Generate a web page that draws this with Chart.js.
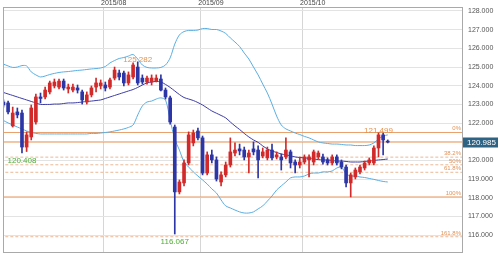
<!DOCTYPE html>
<html><head><meta charset="utf-8">
<script src="https://cdn.jsdelivr.net/npm/chart.js@4/dist/chart.umd.min.js"></script>
<style>html,body{margin:0;padding:0;background:#fff}#wrap{width:500px;height:257px}</style>
</head><body><div id="wrap"><canvas id="c" width="500" height="257"></canvas></div>
<script>
// ---- data (USD/JPY daily, Jul–Oct 2015) ----
const opens = [123.13,123.08,121.85,122.60,122.54,120.72,121.26,122.06,123.40,123.40,
123.67,123.99,123.93,124.25,123.83,123.77,123.88,123.67,123.13,123.51,
123.93,123.99,124.04,123.93,124.41,124.68,124.68,124.15,124.47,125.00,
124.41,124.20,124.20,124.25,124.36,123.77,123.35,121.79,118.32,118.80,
119.87,120.94,121.58,121.21,119.33,120.30,120.03,118.85,119.23,119.76,
120.40,120.62,120.56,120.19,120.62,120.56,120.24,120.14,120.56,120.19,
120.19,120.19,120.46,119.92,119.76,119.92,120.03,119.92,120.19,120.19,
120.03,119.87,120.19,119.92,119.65,118.80,119.12,119.39,119.60,119.87,
119.87,120.67,121.37,121.02];
const highs = [123.24,123.18,122.86,122.81,122.70,121.53,122.97,123.56,123.61,123.93,
124.25,124.36,124.36,124.36,124.09,124.09,124.04,123.77,123.67,123.99,
124.41,124.31,124.20,124.41,125.00,124.84,124.79,124.74,125.22,125.282,
124.58,124.52,124.58,124.58,124.58,123.88,123.45,121.90,118.96,120.03,
121.53,121.63,121.74,121.31,120.46,120.56,120.19,119.39,119.92,121.21,
120.94,120.88,120.72,120.56,120.99,120.78,120.67,120.72,120.88,120.46,
120.35,121.21,120.56,120.03,120.19,120.30,120.30,120.56,120.51,120.35,
120.14,120.30,120.30,120.03,119.76,119.33,119.60,119.76,119.97,120.14,
120.78,121.499,121.47,121.10];
const lows = [122.86,122.49,121.79,122.28,120.408,120.48,121.10,121.95,123.08,123.29,
123.56,123.88,123.83,123.77,123.61,123.67,123.61,123.02,123.02,123.40,
123.67,123.83,123.72,123.83,124.31,124.31,123.99,124.04,124.36,124.04,
124.09,124.09,124.04,124.20,123.72,123.29,121.95,116.067,118.21,118.64,
119.76,120.78,121.10,119.23,119.23,119.87,118.90,118.64,119.12,119.65,
120.24,120.30,120.03,119.33,120.30,119.07,120.14,120.03,120.03,120.08,
119.49,120.08,119.60,119.33,119.60,119.81,119.12,119.76,120.08,119.81,
119.76,119.76,119.76,119.55,118.58,118.05,119.01,119.28,119.49,119.76,
119.76,120.19,120.30,120.94];
const closes = [122.97,122.60,122.54,122.44,120.72,121.37,122.81,123.40,123.32,123.77,
124.15,124.20,124.25,123.88,123.93,123.93,123.77,123.24,123.51,123.88,
124.15,124.15,123.88,124.31,124.84,124.47,124.15,124.58,125.11,124.15,
124.20,124.41,124.41,124.41,123.77,123.40,122.06,118.32,118.85,119.87,
121.37,121.47,121.21,119.33,120.30,120.03,119.01,119.23,119.76,120.46,
120.56,120.51,120.19,120.40,120.46,120.03,120.46,120.56,120.14,120.30,
120.03,120.56,119.87,119.76,119.92,120.19,120.19,120.46,120.40,119.92,
119.87,120.19,119.87,119.65,118.80,119.23,119.49,119.65,119.87,120.03,
120.67,121.37,121.10,120.985];

const bbUpper = [125.16,125.06,124.98,125.00,125.08,125.06,124.74,124.58,124.47,124.52,
124.60,124.66,124.71,124.74,124.76,124.79,124.82,124.84,124.87,124.90,
124.92,124.95,125.03,125.22,125.35,125.46,125.51,125.59,125.67,125.43,
125.11,124.98,124.95,124.95,124.98,125.11,125.49,126.23,126.72,126.90,
126.96,126.96,126.98,127.06,127.06,127.01,127.01,126.93,126.80,126.56,
126.34,126.10,125.75,125.43,125.00,124.58,124.09,123.61,123.02,122.38,
121.90,121.69,121.58,121.47,121.39,121.29,121.21,121.10,120.99,120.94,
120.91,120.88,120.88,120.86,120.83,120.83,120.80,120.80,120.80,120.83,
120.94,121.15,121.31,121.37];
const bbMiddle = [123.64,123.56,123.48,123.40,123.32,123.24,123.16,123.08,123.00,123.00,
123.00,123.02,123.02,123.05,123.08,123.08,123.10,123.13,123.16,123.18,
123.21,123.24,123.32,123.40,123.48,123.56,123.64,123.72,123.80,123.91,
124.04,124.15,124.20,124.23,124.20,124.07,123.91,123.72,123.53,123.37,
123.29,123.21,123.10,122.97,122.81,122.65,122.53,122.41,122.28,122.06,
121.85,121.66,121.45,121.26,121.10,120.97,120.78,120.62,120.51,120.43,
120.35,120.30,120.25,120.19,120.16,120.14,120.11,120.08,120.05,120.03,
120.03,120.00,119.97,119.97,119.95,119.92,119.92,119.92,119.95,119.97,
120.00,120.03,120.05,120.08];
const bbLower = [122.14,122.01,121.90,121.79,121.69,121.58,121.50,121.45,121.42,121.42,
121.42,121.42,121.42,121.42,121.42,121.42,121.42,121.42,121.42,121.45,
121.45,121.47,121.50,121.53,121.58,121.63,121.69,121.77,121.90,122.44,
122.92,123.13,123.18,123.29,123.35,123.24,122.17,121.15,120.56,119.92,
119.65,119.39,119.17,118.96,118.74,118.48,118.26,117.89,117.57,117.46,
117.35,117.25,117.19,117.19,117.25,117.41,117.57,117.83,118.10,118.42,
118.64,118.85,119.07,119.12,119.12,119.17,119.28,119.33,119.33,119.39,
119.39,119.44,119.60,119.65,119.28,119.17,119.17,119.12,119.09,119.04,
118.99,118.93,118.88,118.85];

const monthTicks = [21.5, 42.5, 64.5];
const monthLabels = ['2015/08', '2015/09', '2015/10'];
const yTicks = [116,117,118,119,120,121,122,123,124,125,126,127,128];
const fibLevels = [121.499, 120.18, 119.77, 119.37, 118.05, 115.92];
const fibLabels = ['0%', '38.2%', '50%', '61.8%', '100%', '161.8%'];
const fibSolid = [true, false, false, false, true, false];
const currentPrice = 120.985;
const highMarks = [{i: 29, v: 125.282}, {i: 81, v: 121.499}];
const lowMarks = [{i: 4, v: 120.408}, {i: 37, v: 116.067}];

// ---- styling ----
const UP = '#d22a2a', DOWN = '#2c36a6';
const ORANGE = '#e9a06c', ORANGE_D = '#ebb894';
const FONT = 'Arial, "Liberation Sans", sans-serif';
const colors = opens.map((o, i) => closes[i] >= o ? UP : DOWN);

const datasets = [];
fibLevels.forEach((lv, k) => {
  datasets.push({type: 'line', data: [{x: -5, y: lv}, {x: 105, y: lv}],
    borderColor: fibSolid[k] ? ORANGE : ORANGE_D, borderWidth: 1,
    borderDash: fibSolid[k] ? [] : [3, 2], pointRadius: 0, order: 20});
});
datasets.push({type: 'line', data: [{x: -5, y: currentPrice}, {x: 105, y: currentPrice}],
  borderColor: ORANGE, borderWidth: 1, pointRadius: 0, order: 19});
datasets.push({type: 'line', data: bbUpper.map((v, i) => ({x: i, y: v})),
  borderColor: '#5aaee2', borderWidth: 1, pointRadius: 0, tension: 0.3, order: 10});
datasets.push({type: 'line', data: bbLower.map((v, i) => ({x: i, y: v})),
  borderColor: '#5aaee2', borderWidth: 1, pointRadius: 0, tension: 0.3, order: 10});
datasets.push({type: 'line', data: bbMiddle.map((v, i) => ({x: i, y: v})),
  borderColor: '#3b3ba6', borderWidth: 1, pointRadius: 0, tension: 0.3, order: 9});
datasets.push({type: 'bar', data: lows.map((l, i) => ({x: i, y: [l, highs[i]]})),
  backgroundColor: colors, barThickness: 1, grouped: false, order: 2});
datasets.push({type: 'bar', data: opens.map((o, i) => ({x: i, y: [o, closes[i]]})),
  backgroundColor: colors, barThickness: 3, minBarLength: 1, grouped: false, order: 1});

const annot = {
  id: 'annot',
  afterDatasetsDraw(chart) {
    const {ctx, chartArea: a, scales: {x, y}} = chart;
    ctx.save();
    ctx.strokeStyle = '#a9a9a9'; ctx.lineWidth = 1;
    ctx.strokeRect(Math.round(a.left) + 0.5, Math.round(a.top) + 0.5,
      Math.round(a.right - a.left) - 1, Math.round(a.bottom - a.top) - 1);
    // fib labels
    ctx.font = '6px ' + FONT; ctx.fillStyle = '#e39358';
    ctx.textAlign = 'right'; ctx.textBaseline = 'alphabetic';
    fibLevels.forEach((lv, k) => ctx.fillText(fibLabels[k], a.right - 2, y.getPixelForValue(lv) - 2));
    // high/low marks
    ctx.font = '8px ' + FONT; ctx.textAlign = 'center';
    ctx.fillStyle = '#e3934f';
    highMarks.forEach(m => ctx.fillText(m.v.toFixed(3), x.getPixelForValue(m.i), y.getPixelForValue(m.v) + 0.5));
    ctx.fillStyle = '#4caf30';
    lowMarks.forEach(m => ctx.fillText(m.v.toFixed(3), x.getPixelForValue(m.i), y.getPixelForValue(m.v) + 10));
    // month labels (left-aligned at boundary)
    ctx.font = '7px ' + FONT; ctx.fillStyle = '#444'; ctx.textAlign = 'left'; ctx.textBaseline = 'bottom';
    monthTicks.forEach((t, k) => ctx.fillText(monthLabels[k], x.getPixelForValue(t) - 2, a.top));
    ctx.restore();
  },
  afterDraw(chart) {
    const {ctx, chartArea: a, scales: {y}} = chart;
    const py = y.getPixelForValue(currentPrice);
    ctx.save();
    ctx.fillStyle = '#2e6384';
    ctx.fillRect(a.right, Math.round(py) - 4.5, 35, 10);
    ctx.fillStyle = '#fff'; ctx.font = '8px ' + FONT;
    ctx.textAlign = 'left'; ctx.textBaseline = 'middle';
    ctx.fillText(currentPrice.toFixed(3), a.right + 4, Math.round(py) + 0.5);
    ctx.restore();
  }
};

new Chart(document.getElementById('c'), {
  type: 'bar',
  data: {datasets},
  plugins: [annot],
  options: {
    responsive: false, animation: false, devicePixelRatio: 1,
    layout: {padding: {left: 3, right: 0, top: 0, bottom: 4}},
    plugins: {legend: {display: false}, tooltip: {enabled: false}},
    scales: {
      x: {
        type: 'linear', position: 'top', min: -0.1, max: 99.25, offset: false,
        afterBuildTicks: s => { s.ticks = monthTicks.map(v => ({value: v})); },
        afterFit: s => { s.height = 7; s.paddingLeft = 0; s.paddingRight = 0; s.paddingTop = 0; s.paddingBottom = 0; },
        ticks: {display: false},
        grid: {color: '#d6d6d6', drawTicks: false, offset: false},
        border: {display: false}
      },
      y: {
        type: 'linear', position: 'right', min: 115.05, max: 128.214,
        afterBuildTicks: s => { s.ticks = yTicks.map(v => ({value: v})); },
        afterFit: s => { s.width = 37; s.paddingTop = 0; s.paddingBottom = 0; s.paddingLeft = 0; s.paddingRight = 0; },
        ticks: {callback: v => Number(v).toFixed(3), font: {size: 7, family: FONT},
          color: '#555', padding: 5},
        grid: {color: '#e3e3e3', drawTicks: false},
        border: {display: false}
      }
    }
  }
});
</script></body></html>
